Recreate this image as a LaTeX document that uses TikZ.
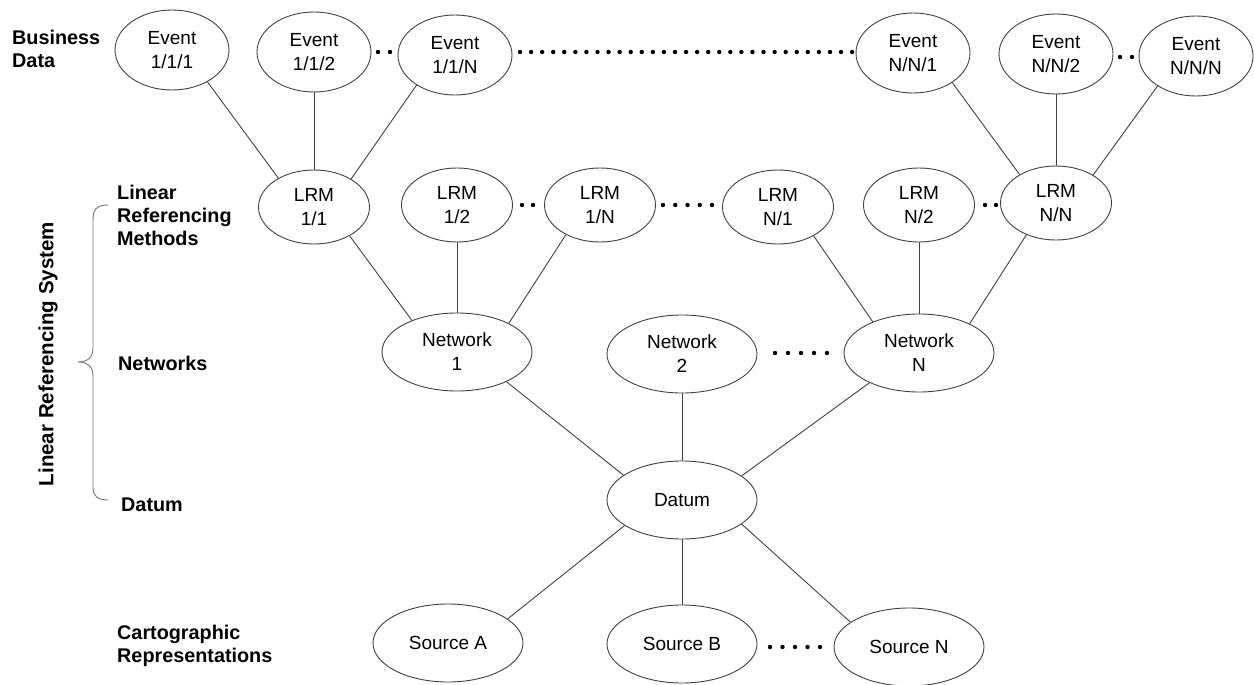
\documentclass[tikz,border=0pt]{standalone}
\usepackage{fontspec}
\setmainfont{Liberation Sans}
\usetikzlibrary{shapes.geometric}
\begin{document}
\begin{tikzpicture}[x=1pt,y=-1pt,
  ev/.style={ellipse, draw=black!75, line width=0.9pt, minimum width=114pt, minimum height=80pt, inner sep=0pt, align=center, font=\fontsize{19}{24}\selectfont},
  lrm/.style={ev, minimum width=111pt, minimum height=74pt},
  big/.style={ev, minimum width=150pt, minimum height=78pt},
  link/.style={draw=black!75, line width=0.9pt},
  lbl/.style={anchor=west, align=left, font=\fontsize{19.8}{23}\selectfont\bfseries, inner sep=0pt},
  dotc/.style={fill=black}
]
\useasboundingbox (0,0) rectangle (1254,685);

% Business data
\node[ev] (e111) at (172,50) {Event\\1/1/1};
\node[ev] (e112) at (314,52) {Event\\1/1/2};
\node[ev] (e11n) at (455,55) {Event\\1/1/N};
\node[ev] (enn1) at (913,53) {Event\\N/N/1};
\node[ev] (enn2) at (1056,54) {Event\\N/N/2};
\node[ev] (ennn) at (1196,56) {Event\\N/N/N};

% LRMs
\node[lrm] (l11) at (314,207) {LRM\\1/1};
\node[lrm] (l12) at (457,205) {LRM\\1/2};
\node[lrm] (l1n) at (600,205) {LRM\\1/N};
\node[lrm] (ln1) at (778,207) {LRM\\N/1};
\node[lrm] (ln2) at (919,205) {LRM\\N/2};
\node[lrm] (lnn) at (1056,203) {LRM\\N/N};

% Networks, datum, sources
\node[big] (n1) at (457,352) {Network\\1};
\node[big] (n2) at (682,354) {Network\\2};
\node[big] (nn) at (919,353) {Network\\N};
\node[big] (dat) at (682,500) {Datum};
\node[big] (sa) at (448,643) {Source A};
\node[big] (sb) at (682,644) {Source B};
\node[big] (sn) at (909,647) {Source N};

% connectors
\draw[link] (e111.-42) -- (l11.141);
\draw[link] (e112.south) -- (l11.north);
\draw[link] (e11n.-142) -- (l11.37);
\draw[link] (l11.-39) -- (n1.145);
\draw[link] (l12.south) -- (n1.north);
\draw[link] (l1n.-139) -- (n1.29);
\draw[link] (ln1.-39) -- (nn.146);
\draw[link] (ln2.south) -- (nn.north);
\draw[link] (lnn.-133) -- (nn.30);
\draw[link] (enn1.-37) -- (lnn.142);
\draw[link] (enn2.south) -- (lnn.north);
\draw[link] (ennn.-142) -- (lnn.37);
\draw[link] (n1.-31) -- (dat.157);
\draw[link] (n2.south) -- (dat.north);
\draw[link] (nn.-149) -- (dat.22);
\draw[link] (dat.-156) -- (sa.22.6);
\draw[link] (dat.south) -- (sb.north);
\draw[link] (dat.-22) -- (sn.157);

% ellipsis dots
\foreach \x in {378,390} \fill[dotc] (\x,52) circle (2.2);
\foreach \i in {0,...,30} \fill[dotc] ({520+\i*11.07},52) circle (2.2);
\foreach \x in {1120,1132} \fill[dotc] (\x,57) circle (2.2);
\foreach \x in {522,533} \fill[dotc] (\x,205) circle (2.2);
\foreach \i in {0,...,4} \fill[dotc] ({663+\i*12.25},205) circle (2.2);
\foreach \x in {985,996} \fill[dotc] (\x,205) circle (2.2);
\foreach \i in {0,...,4} \fill[dotc] ({775+\i*13},353) circle (2.2);
\foreach \i in {0,...,4} \fill[dotc] ({770+\i*12.5},647) circle (2.2);

% left labels
\node[lbl] (lbd) at (12,49) {Business\\Data};
\node[lbl] (llrm) at (117,215) {Linear\\Referencing\\Methods};
\node[lbl] (lnet) at (118,363) {Networks};
\node[lbl] (ldat) at (121,505) {Datum};
\node[lbl] (lcart) at (117,646) {Cartographic\\Representations};
\node[font=\fontsize{20.5}{23}\selectfont\bfseries, rotate=90, inner sep=0pt] (lrs) at (48,354) {Linear Referencing System};

% brace
\draw[black!55, line width=0.9pt] (108,205) .. controls (96,205) and (93,210) .. (93,220) -- (93,348) .. controls (93,357) and (88,362) .. (78,362) .. controls (88,362) and (93,367) .. (93,376) -- (93,488) .. controls (93,496) and (98,500) .. (108,500);
\end{tikzpicture}
\end{document}
